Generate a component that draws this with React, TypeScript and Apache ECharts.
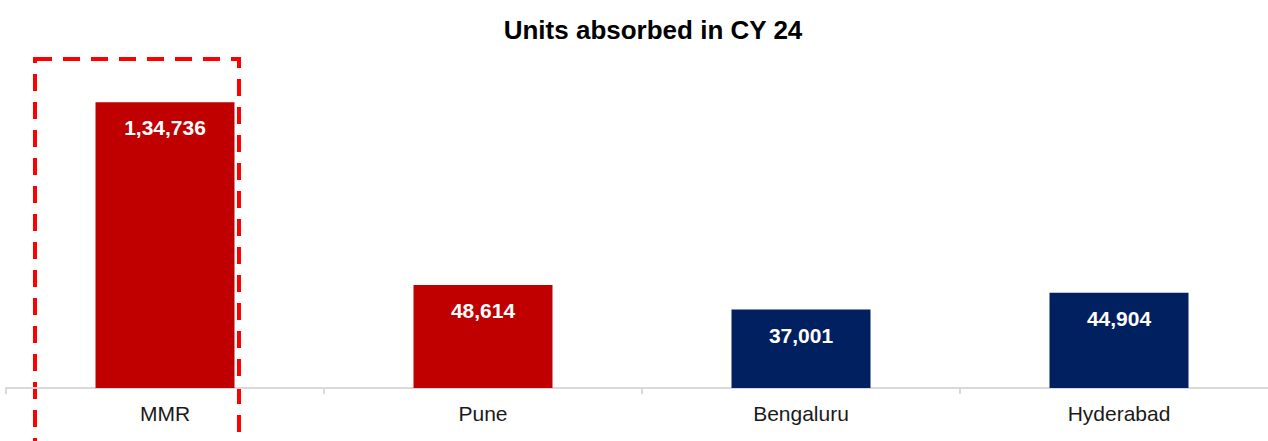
import React, { useEffect, useRef } from "react";
import * as echarts from "echarts";

const categories = ["MMR", "Pune", "Bengaluru", "Hyderabad"];
const unitsAbsorbed = [134736, 48614, 37001, 44904];
const barColors = ["#C00000", "#C00000", "#002060", "#002060"];
const titleText = "Units absorbed in CY 24";

function indianFormat(n: number): string {
  const s = String(Math.round(n));
  if (s.length <= 3) return s;
  const last3 = s.slice(-3);
  let rest = s.slice(0, -3);
  const parts: string[] = [];
  while (rest.length > 2) {
    parts.unshift(rest.slice(-2));
    rest = rest.slice(0, -2);
  }
  if (rest) parts.unshift(rest);
  return parts.join(",") + "," + last3;
}

export default function App() {
  const ref = useRef<HTMLDivElement>(null);
  useEffect(() => {
    if (!ref.current) return;
    const chart = echarts.init(ref.current, null, { renderer: "svg" });
    const font = "'Liberation Sans', Arial, sans-serif";
    chart.setOption({
      animation: false,
      backgroundColor: "#ffffff",
      title: {
        text: titleText,
        left: 648,
        textAlign: "center",
        top: 12,
        textStyle: { fontFamily: font, fontSize: 26, fontWeight: "bold", color: "#000000" },
      },
      grid: {
        left: 6,
        width: 1272,
        top: 70,
        bottom: 53,
        containLabel: false,
        outerBoundsMode: "none",
      },
      xAxis: {
        type: "category",
        data: categories,
        axisLine: { show: true, lineStyle: { color: "#d9d9d9", width: 2 } },
        axisTick: { show: true, length: 6, lineStyle: { color: "#d9d9d9", width: 2 } },
        axisLabel: { fontFamily: font, fontSize: 21, color: "#1a1a1a", margin: 15 },
      },
      yAxis: {
        type: "value",
        min: 0,
        max: 150000,
        show: false,
        splitLine: { show: false },
      },
      series: [
        {
          type: "bar",
          barWidth: 139,
          data: unitsAbsorbed.map((v, i) => ({ value: v, itemStyle: { color: barColors[i] } })),
          label: {
            show: true,
            position: "insideTop",
            distance: 15,
            color: "#ffffff",
            fontFamily: font,
            fontSize: 21,
            fontWeight: "bold",
            formatter: (p: any) => indianFormat(p.value),
          },
        },
      ],
      graphic: [
        {
          type: "rect",
          shape: { x: 35, y: 59, width: 204, height: 400 },
          style: { fill: "none", stroke: "#FF0000", lineWidth: 4, lineDash: [17, 11] },
          silent: true,
        },
      ],
    });
    return () => chart.dispose();
  }, []);
  return (
    <div
      ref={ref}
      style={{ position: "absolute", left: 0, top: 0, width: 1268, height: 441 }}
    />
  );
}
